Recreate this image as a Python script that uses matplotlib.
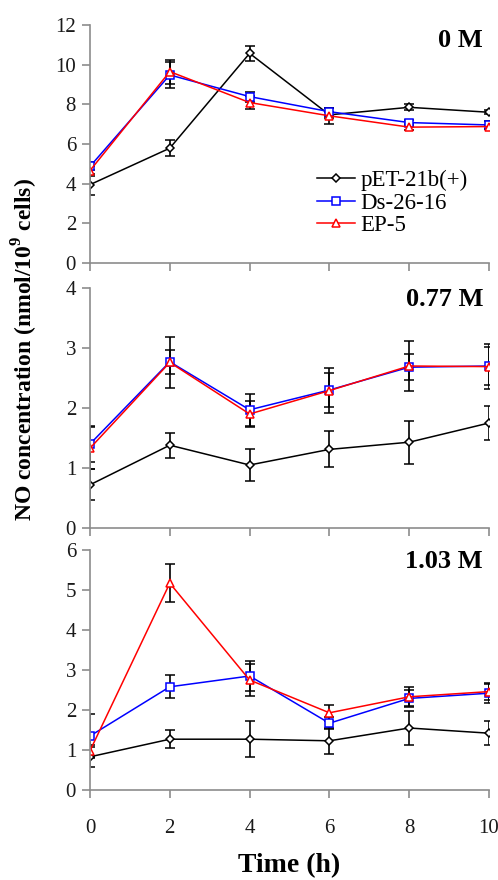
import numpy as np
import matplotlib.pyplot as plt

plt.rcParams['font.family'] = ['Liberation Serif', 'DejaVu Serif']
plt.rcParams['mathtext.fontset'] = 'custom'
plt.rcParams['mathtext.rm'] = 'Liberation Serif'
plt.rcParams['mathtext.bf'] = 'Liberation Serif:bold'

# Время (ч)
time_h = [0, 2, 4, 6, 8, 10]
series_names = ['pET-21b(+)', 'Ds-26-16', 'EP-5']
panel_labels = ['0 M', '0.77 M', '1.03 M']

# 0 M
pet_0 = [3.95, 5.79, 10.57, 7.47, 7.85, 7.6]
pet_0_err = [0.53, 0.42, 0.38, 0.15, 0.15, 0.1]
ds_0 = [4.87, 9.48, 8.39, 7.63, 7.08, 6.96]
ds_0_err = [0.2, 0.67, 0.25, 0.2, 0.15, 0.2]
ep_0 = [4.66, 9.65, 8.09, 7.42, 6.85, 6.88]
ep_0_err = [0.25, 0.6, 0.35, 0.4, 0.15, 0.1]

# 0.77 M
pet_077 = [0.72, 1.38, 1.05, 1.31, 1.43, 1.75]
pet_077_err = [0.26, 0.21, 0.26, 0.3, 0.36, 0.29]
ds_077 = [1.40, 2.77, 1.97, 2.30, 2.68, 2.70]
ds_077_err = [0.3, 0.2, 0.27, 0.28, 0.22, 0.31]
ep_077 = [1.33, 2.76, 1.90, 2.29, 2.70, 2.69]
ep_077_err = [0.35, 0.42, 0.22, 0.38, 0.42, 0.37]

# 1.03 M
pet_103 = [0.83, 1.27, 1.27, 1.23, 1.55, 1.42]
pet_103_err = [0.25, 0.22, 0.45, 0.33, 0.42, 0.3]
ds_103 = [1.35, 2.58, 2.85, 1.67, 2.29, 2.42]
ds_103_err = [0.55, 0.29, 0.38, 0.15, 0.2, 0.25]
ep_103 = [0.98, 5.17, 2.75, 1.93, 2.33, 2.46]
ep_103_err = [0.15, 0.47, 0.4, 0.2, 0.25, 0.2]

panels = [
    ([pet_0, ds_0, ep_0], [pet_0_err, ds_0_err, ep_0_err], 12, 2),
    ([pet_077, ds_077, ep_077], [pet_077_err, ds_077_err, ep_077_err], 4, 1),
    ([pet_103, ds_103, ep_103], [pet_103_err, ds_103_err, ep_103_err], 6, 1),
]
colors = ['black', 'blue', 'red']
markers = ['D', 's', '^']
msizes = [4, 6, 6]

W, H = 498, 880
fig = plt.figure(figsize=(W / 100, H / 100), dpi=100)
boxes = [(25, 263), (288, 528), (550, 790)]
axes = []
for i, (vals, errs, ymax, ystep) in enumerate(panels):
    top, bot = boxes[i]
    ax = fig.add_axes([90 / W, 1 - bot / H, 399 / W, (bot - top) / H])
    for j in range(3):
        ax.errorbar(time_h, vals[j], yerr=errs[j], color=colors[j], ecolor='black',
                    elinewidth=1.2, capsize=3.5, capthick=1.2, lw=1.1,
                    marker=markers[j], ms=msizes[j], mfc='white', mec=colors[j],
                    mew=1.1, label=series_names[j])
    ax.set_xlim(0, 10)
    ax.set_ylim(0, ymax)
    ax.set_yticks(np.arange(0, ymax + 0.1, ystep))
    ax.set_xticks(time_h)
    for s in ['top', 'right']:
        ax.spines[s].set_visible(False)
    for s in ['left', 'bottom']:
        ax.spines[s].set_color('#8c8c8c')
        ax.spines[s].set_linewidth(1.2)
    ax.tick_params(direction='out', length=6, width=1.2, color='#8c8c8c',
                   labelsize=15, labelcolor='#1a1a1a', pad=4)
    if i < 2:
        ax.tick_params(axis='x', labelbottom=False)
    ax.text(0.985, 0.935 if i == 0 else 0.95, panel_labels[i], transform=ax.transAxes,
            ha='right', va='center', fontsize=19, fontweight='bold')
    for lbl in ax.get_xticklabels():
        lbl.set_clip_on(False)
    axes.append(ax)

# легенда
handles, labels = axes[0].get_legend_handles_labels()
handles = [h[0] for h in handles]
axes[0].legend(handles, labels, loc='upper left', bbox_to_anchor=(0.569, 0.39),
               frameon=False, fontsize=16.5, handlelength=1.65, handletextpad=0.25,
               labelspacing=0.06, borderpad=0, borderaxespad=0)

axes[2].tick_params(axis='x', pad=15)
axes[2].set_xlabel('Time (h)', fontsize=20, fontweight='bold', labelpad=11)

fig.text(25 / W, 1 - 350 / H, r'NO concentration (nmol/10$^{\mathbf{9}}$ cells)',
         rotation=90, ha='center', va='center', fontsize=17, fontweight='bold')

fig.savefig('out.png', dpi=100)
